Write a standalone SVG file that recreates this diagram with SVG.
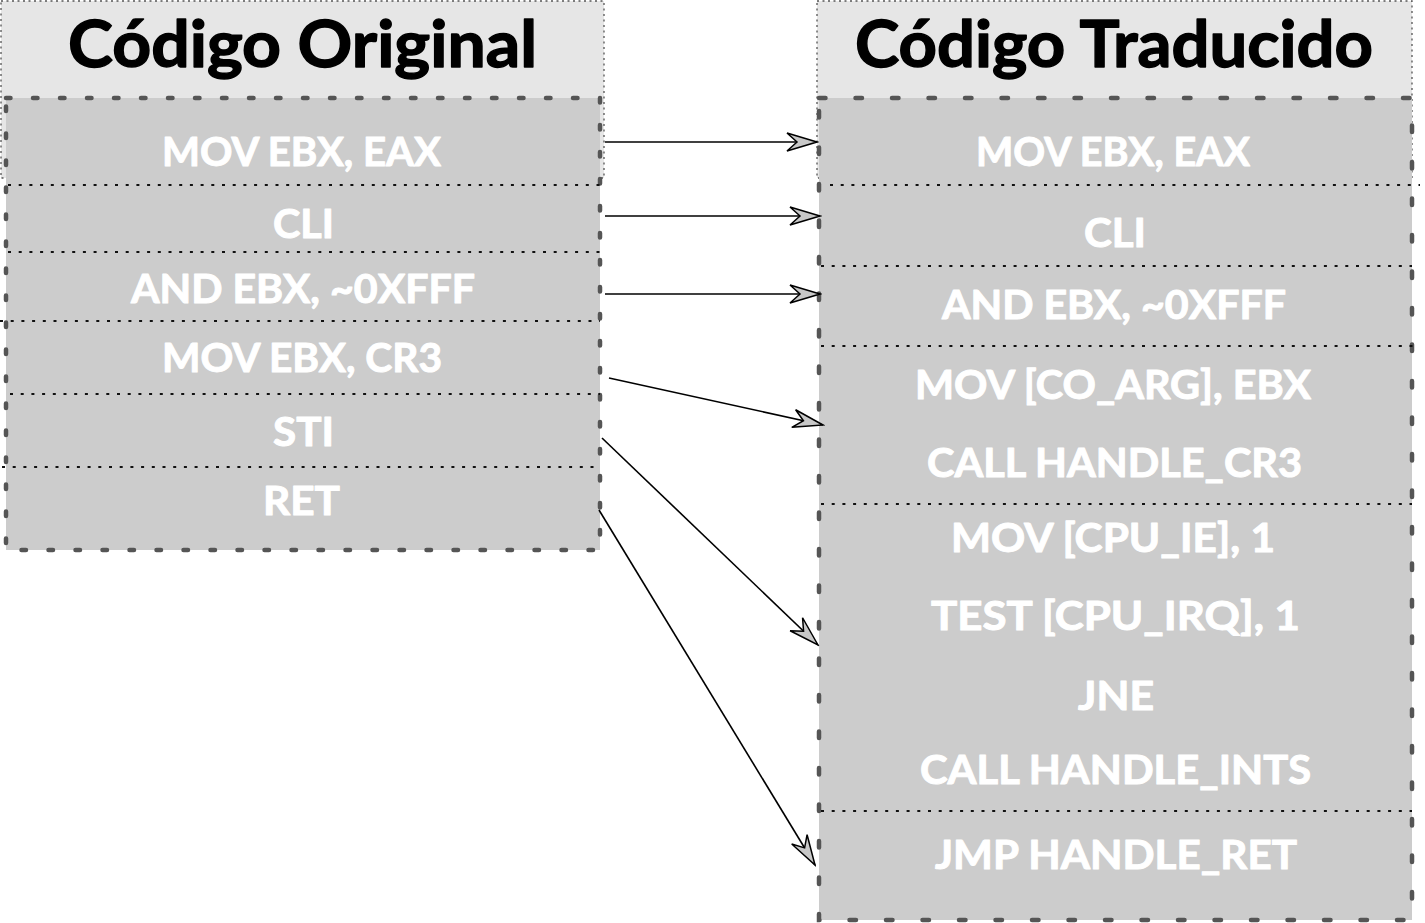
<svg xmlns="http://www.w3.org/2000/svg" width="1425" height="923" viewBox="0 0 1425 923">
  <style>
    .head { fill: #e6e6e6; stroke: #555555; stroke-width: 1.3; stroke-dasharray: 2 3.5; }
    .bodyL { fill: #cccccc; stroke: #555555; stroke-width: 4.5; stroke-linecap: round; stroke-dasharray: 4.5 22.5; }
    .bodyR { fill: #cccccc; stroke: #555555; stroke-width: 4.5; stroke-linecap: round; stroke-dasharray: 6.5 30; }
    .sep { stroke: #111111; stroke-width: 2; stroke-dasharray: 3 7.7; fill: none; }
    .title { font-family: Lato, "Liberation Sans", sans-serif; font-weight: 700; font-size: 65px; fill: #000000; stroke: #000000; stroke-width: 1.4; stroke-linejoin: round; }
    .op { font-family: Lato, "Liberation Sans", sans-serif; font-weight: 700; font-size: 41px; fill: #ffffff; stroke: #ffffff; stroke-width: 1; stroke-linejoin: round; }
    .link { stroke: #000000; stroke-width: 1.6; fill: none; marker-end: url(#head); }
  </style>
  <defs>
    <marker id="head" markerUnits="userSpaceOnUse" markerWidth="34" markerHeight="22" viewBox="-32 -11 34 22" refX="0" refY="0" orient="auto">
      <path d="M0,0 L-30,-9 L-20,0 L-30,9 Z" fill="#c8c8c8" stroke="#000000" stroke-width="1.5" stroke-linejoin="miter"/>
    </marker>
  </defs>

  <rect width="1425" height="923" fill="#ffffff"/>

  <!-- Original code column -->
  <g id="original">
    <rect class="head" x="1" y="1" width="603" height="177"/>
    <text class="title" x="68" y="67" textLength="469" lengthAdjust="spacingAndGlyphs">Código Original</text>
    <rect class="bodyL" x="6" y="98" width="594" height="452"/>
    <line class="sep" x1="8" y1="185" x2="600" y2="185"/>
    <line class="sep" x1="8" y1="252" x2="600" y2="252"/>
    <line class="sep" x1="0" y1="321" x2="600" y2="321"/>
    <line class="sep" x1="10" y1="394" x2="600" y2="394"/>
    <line class="sep" x1="2" y1="467" x2="600" y2="467"/>
  </g>
  <g id="orig-mov-eax"><text class="op" x="162" y="166" textLength="279" lengthAdjust="spacingAndGlyphs">MOV EBX, EAX</text></g>
  <g id="orig-cli"><text class="op" x="273" y="238" textLength="61" lengthAdjust="spacingAndGlyphs">CLI</text></g>
  <g id="orig-and"><text class="op" x="131" y="303" textLength="344" lengthAdjust="spacingAndGlyphs">AND EBX, ~0XFFF</text></g>
  <g id="orig-mov-cr3"><text class="op" x="162" y="372" textLength="280" lengthAdjust="spacingAndGlyphs">MOV EBX, CR3</text></g>
  <g id="orig-sti"><text class="op" x="273" y="446" textLength="61" lengthAdjust="spacingAndGlyphs">STI</text></g>
  <g id="orig-ret"><text class="op" x="263" y="515" textLength="77" lengthAdjust="spacingAndGlyphs">RET</text></g>

  <!-- Translated code column -->
  <g id="translated">
    <rect class="head" x="817" y="1" width="595" height="177"/>
    <text class="title" x="855" y="67" textLength="518" lengthAdjust="spacingAndGlyphs">Código Traducido</text>
    <rect class="bodyR" x="819" y="98" width="593" height="822"/>
    <line class="sep" x1="830" y1="185" x2="1420" y2="185"/>
    <line class="sep" x1="821" y1="266" x2="1412" y2="266"/>
    <line class="sep" x1="821" y1="346" x2="1420" y2="346"/>
    <line class="sep" x1="821" y1="504" x2="1412" y2="504"/>
    <line class="sep" x1="821" y1="811" x2="1412" y2="811"/>
  </g>
  <g id="tr-mov-eax"><text class="op" x="976" y="166" textLength="274" lengthAdjust="spacingAndGlyphs">MOV EBX, EAX</text></g>
  <g id="tr-cli"><text class="op" x="1084" y="247" textLength="62" lengthAdjust="spacingAndGlyphs">CLI</text></g>
  <g id="tr-and"><text class="op" x="942" y="319" textLength="344" lengthAdjust="spacingAndGlyphs">AND EBX, ~0XFFF</text></g>
  <g id="tr-cr3">
    <text class="op" x="915" y="399" textLength="396" lengthAdjust="spacingAndGlyphs">MOV [CO_ARG], EBX</text>
    <text class="op" x="927" y="477" textLength="375" lengthAdjust="spacingAndGlyphs">CALL HANDLE_CR3</text>
  </g>
  <g id="tr-sti">
    <text class="op" x="951" y="552" textLength="324" lengthAdjust="spacingAndGlyphs">MOV [CPU_IE], 1</text>
    <text class="op" x="931" y="630" textLength="369" lengthAdjust="spacingAndGlyphs">TEST [CPU_IRQ], 1</text>
    <text class="op" x="1078" y="710" textLength="76" lengthAdjust="spacingAndGlyphs">JNE</text>
    <text class="op" x="920" y="784" textLength="391" lengthAdjust="spacingAndGlyphs">CALL HANDLE_INTS</text>
  </g>
  <g id="tr-ret"><text class="op" x="935" y="869" textLength="362" lengthAdjust="spacingAndGlyphs">JMP HANDLE_RET</text></g>

  <!-- Connectors -->
  <g id="connectors">
    <path class="link" d="M605,142 L817,142"/>
    <path class="link" d="M605,216 L820,216"/>
    <path class="link" d="M605,294 L820,294"/>
    <path class="link" d="M609,378 L823,425"/>
    <path class="link" d="M602,438 L818,645"/>
    <path class="link" d="M599,510 L815,865"/>
  </g>
</svg>
